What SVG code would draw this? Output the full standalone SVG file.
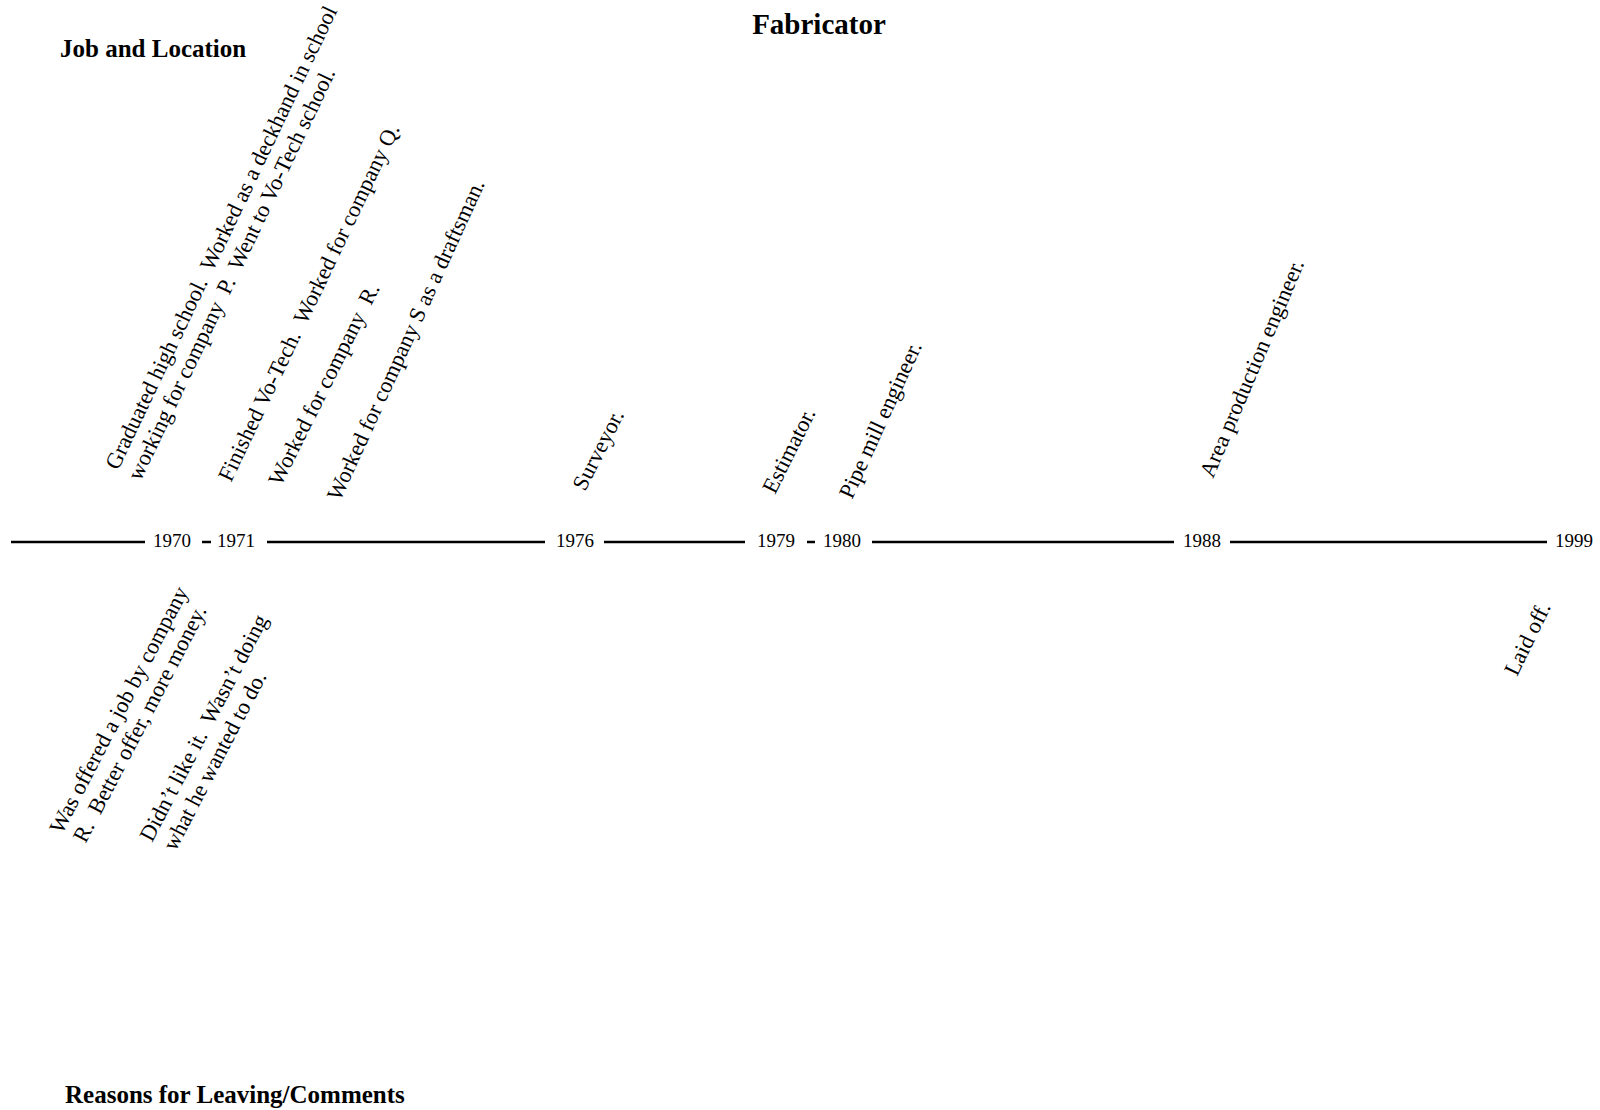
<svg xmlns="http://www.w3.org/2000/svg" width="1600" height="1110" viewBox="0 0 1600 1110">
  <style>
    .bg { fill: #ffffff; }
    .head { font-family: "Liberation Serif", "Times New Roman", serif; font-weight: bold; fill: #000; }
    .note { font-family: "Liberation Serif", "Times New Roman", serif; font-size: 22.5px; fill: #000; white-space: pre; }
    .year { font-family: "Liberation Serif", "Times New Roman", serif; font-size: 19px; fill: #000; }
    .axis { stroke: #000; stroke-width: 2.5; fill: none; }
  </style>
  <rect class="bg" x="0" y="0" width="1600" height="1110"/>

  <!-- headings -->
  <g id="title">
    <text class="head" x="819" y="34" font-size="29" text-anchor="middle">Fabricator</text>
  </g>
  <g id="heading-jobs">
    <text class="head" x="60" y="57" font-size="25">Job and Location</text>
  </g>
  <g id="heading-reasons">
    <text class="head" x="65" y="1103" font-size="25">Reasons for Leaving/Comments</text>
  </g>

  <!-- timeline axis segments -->
  <g id="connectors">
    <line class="axis" x1="11" y1="542" x2="145" y2="542"/>
    <line class="axis" x1="267" y1="542" x2="545" y2="542"/>
    <line class="axis" x1="604" y1="542" x2="745" y2="542"/>
    <line class="axis" x1="872" y1="542" x2="1174" y2="542"/>
    <line class="axis" x1="1230" y1="542" x2="1547" y2="542"/>
    <line class="axis" x1="202" y1="542" x2="211" y2="542" stroke-width="3"/>
    <line class="axis" x1="807" y1="542" x2="815" y2="542" stroke-width="3"/>
  </g>

  <!-- years on the axis -->
  <g id="y1970"><text class="year" x="153" y="547">1970</text></g>
  <g id="y1971"><text class="year" x="217" y="547">1971</text></g>
  <g id="y1976"><text class="year" x="556" y="547">1976</text></g>
  <g id="y1979"><text class="year" x="757" y="547">1979</text></g>
  <g id="y1980"><text class="year" x="823" y="547">1980</text></g>
  <g id="y1988"><text class="year" x="1183" y="547">1988</text></g>
  <g id="y1999"><text class="year" x="1555" y="547">1999</text></g>

  <!-- jobs, above the axis -->
  <g id="job-1970" transform="translate(118,471) rotate(-64.5)">
    <text class="note" xml:space="preserve"><tspan x="0" y="0">Graduated high school.  Worked as a deckhand in school</tspan><tspan x="0" y="25">working for company  P.  Went to Vo-Tech school.</tspan></text>
  </g>
  <g id="job-1971a" transform="translate(231,483) rotate(-64.5)">
    <text class="note" xml:space="preserve" x="0" y="0">Finished Vo-Tech.  Worked for company Q.</text>
  </g>
  <g id="job-1971b" transform="translate(281,487) rotate(-63.5)">
    <text class="note" xml:space="preserve" x="0" y="0">Worked for company  R.</text>
  </g>
  <g id="job-1971c" transform="translate(340,502) rotate(-65.5)">
    <text class="note" xml:space="preserve" x="0" y="0">Worked for company S as a draftsman.</text>
  </g>
  <g id="job-1976" transform="translate(585,492) rotate(-63)">
    <text class="note" x="0" y="0">Surveyor.</text>
  </g>
  <g id="job-1979" transform="translate(775,495) rotate(-63.5)">
    <text class="note" x="0" y="0">Estimator.</text>
  </g>
  <g id="job-1980" transform="translate(852,500) rotate(-65.5)">
    <text class="note" x="0" y="0">Pipe mill engineer.</text>
  </g>
  <g id="job-1988" transform="translate(1213,479) rotate(-67)">
    <text class="note" x="0" y="0">Area production engineer.</text>
  </g>

  <!-- reasons, below the axis -->
  <g id="reason-1970" transform="translate(62,835) rotate(-62.5)">
    <text class="note" xml:space="preserve"><tspan x="0" y="0">Was offered a job by company</tspan><tspan x="3" y="25">R.  Better offer, more money.</tspan></text>
  </g>
  <g id="reason-1971" transform="translate(152,843) rotate(-62.5)">
    <text class="note" xml:space="preserve"><tspan x="0" y="0">Didn’t like it.  Wasn’t doing</tspan><tspan x="3" y="25">what he wanted to do.</tspan></text>
  </g>
  <g id="reason-1999" transform="translate(1517,677) rotate(-64)">
    <text class="note" x="0" y="0">Laid off.</text>
  </g>
</svg>
